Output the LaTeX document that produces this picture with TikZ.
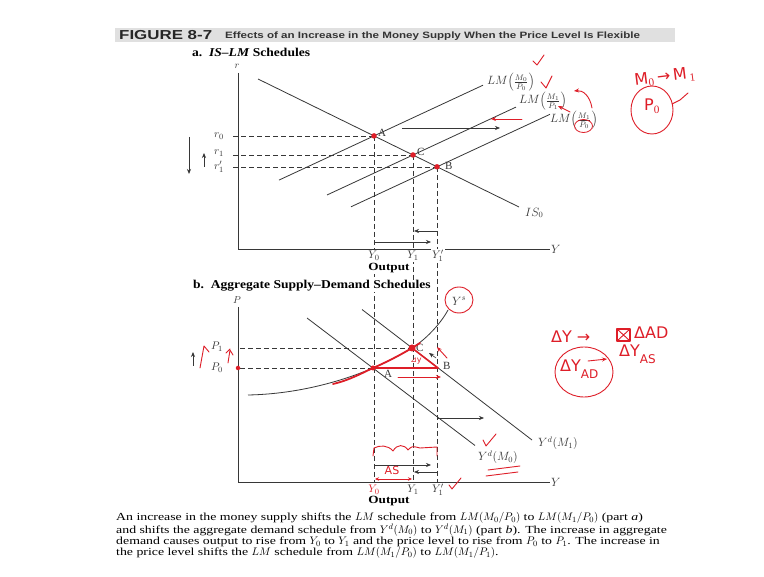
\documentclass[tikz,border=0pt]{standalone}
\usepackage{fontspec}
\setmainfont{Liberation Serif}
\newfontfamily\titlefont[FakeStretch=1.3]{Liberation Sans}
\newfontfamily\subtitlefont[FakeStretch=1.26]{Liberation Sans}
\newfontfamily\headfont[FakeStretch=1.13]{Liberation Serif}
\newfontfamily\outfont[FakeStretch=1.2]{Liberation Serif}
\newfontfamily\capfont[FakeStretch=1.28]{Liberation Serif}
\newfontfamily\handfont{DejaVu Sans}
\newcommand\tightlines{\setlength{\lineskiplimit}{0pt}\setlength{\lineskip}{0.5pt}}
\usetikzlibrary{arrows.meta}
\definecolor{pen}{RGB}{222,30,40}
\definecolor{ink}{RGB}{55,55,55}
\begin{document}
\begin{tikzpicture}[x=1pt,y=-1pt,
  axis/.style={line width=0.8pt, ink},
  curve/.style={line width=0.8pt, ink},
  guide/.style={dash pattern=on 5pt off 3pt, line width=0.55pt, ink},
  shiftarrow/.style={line width=0.6pt, ink, -{Stealth[length=5pt,width=4pt]}},
  dot/.style={circle, fill=pen, inner sep=0pt, minimum size=5.5pt},
  lbl/.style={font=\fontsize{11.5}{12}\selectfont, inner sep=1pt, text=ink},
  ptlbl/.style={font=\fontsize{11}{12}\selectfont, inner sep=1pt, text=ink},
  heading/.style={font=\headfont\bfseries\fontsize{12}{13}\selectfont, anchor=west, inner sep=0pt},
  outlbl/.style={font=\outfont\bfseries\fontsize{11}{12}\selectfont, inner sep=1pt},
  redmark/.style={pen, line width=0.9pt, line cap=round, line join=round},
  redarrow/.style={redmark, -{Stealth[length=5pt,width=4pt]}},
  handtext/.style={text=pen, inner sep=0pt, font=\handfont\fontsize{16}{16}\selectfont}
]
\useasboundingbox (0,0) rectangle (764,577);
\fill[white] (0,0) rectangle (764,577);

% ---------- title bar ----------
\fill[black!12] (115,28) rectangle (675,42);
\node[anchor=west, inner sep=0pt, font=\titlefont\bfseries\fontsize{13}{13}\selectfont, text=black!85] (fignum) at (119,35.5) {FIGURE 8-7};
\node[anchor=west, inner sep=0pt, font=\subtitlefont\bfseries\fontsize{9.2}{10}\selectfont, text=black!80] (figtitle) at (225,35.8) {Effects of an Increase in the Money Supply When the Price Level Is Flexible};

% ---------- panel a ----------
\node[heading] (heada) at (192,52) {a.\ \ \textit{IS–LM} Schedules};

\coordinate (A) at (374,135.9);
\coordinate (C) at (413,155.0);
\coordinate (B) at (437,166.8);

\draw[axis] (238,73) -- (238,249) -- (550,249);
\node[lbl, font=\fontsize{10}{10}\selectfont] (rax) at (237,66) {$r$};
\node[lbl, anchor=west] (yax) at (550,249) {$Y$};

\draw[curve] (258,79) -- (519,207);
\draw[curve] (279,180.1) -- (483,85.2);
\draw[curve] (327,195) -- (516,107.1);
\draw[curve] (351,206.8) -- (550,114.3);

\node[lbl, anchor=west] (islbl) at (524,213) {$IS_0$};
\node[lbl, anchor=west] (lm00) at (486,82) {$LM\Bigl(\frac{M_0}{P_0}\Bigr)$};
\node[lbl, anchor=west] (lm11) at (518,101) {$LM\Bigl(\frac{M_1}{P_1}\Bigr)$};
\node[lbl, anchor=west] (lm10) at (549,120) {$LM\Bigl(\frac{M_1}{P_0}\Bigr)$};

\node[ptlbl] (r0) at (219,135.9) {$r_0$};
\node[ptlbl] (r1) at (219,153) {$r_1$};
\node[ptlbl] (r1p) at (219,167) {$r_1'$};
\draw[guide] (233,135.9) -- (A);
\draw[guide] (233,155) -- (C);
\draw[guide] (233,166.8) -- (B);

% vertical guides spanning both panels
\draw[guide] (A) -- (374,482);
\draw[guide] (C) -- (413,482);
\draw[guide] (B) -- (437,482);

\node[dot] (dA) at (A) {};
\node[dot] (dC) at (C) {};
\node[dot] (dB) at (B) {};
\node[ptlbl, anchor=west] (la) at (377,133) {A};
\node[ptlbl, anchor=west] (lc) at (416,152) {C};
\node[ptlbl, anchor=west] (lb) at (444,166) {B};

\coordinate (sa1) at (402,128); \coordinate (sa2) at (500,128);
\draw[shiftarrow] (sa1) -- (sa2);
\coordinate (ya1) at (374,242); \coordinate (ya2) at (431,242);
\draw[shiftarrow] (ya1) -- (ya2);
\coordinate (yb1) at (437,231); \coordinate (yb2) at (414,231);
\draw[shiftarrow] (yb1) -- (yb2);
\coordinate (dn1) at (189,137); \coordinate (dn2) at (189,174);
\draw[shiftarrow, line width=0.8pt] (dn1) -- (dn2);
\coordinate (up1) at (204,167); \coordinate (up2) at (204,153);
\draw[shiftarrow, line width=0.7pt] (up1) -- (up2);

\node[ptlbl, fill=white, inner sep=1pt] (Y0a) at (374,256) {$Y_0$};
\node[ptlbl, fill=white, inner sep=1pt] (Y1a) at (413,256) {$Y_1$};
\node[ptlbl, fill=white, inner sep=1pt] (Y1pa) at (438,256) {$Y_1'$};
\node[outlbl, fill=white] (outa) at (389,268) {Output};

% ---------- panel b ----------
\node[heading, fill=white, inner sep=1pt] (headb) at (192,286) {b.\ \ Aggregate Supply–Demand Schedules};

\coordinate (A2) at (373,368);
\coordinate (C2) at (412,348);
\coordinate (B2) at (438,368);

\draw[axis] (238,307) -- (238,482) -- (550,482);
\node[lbl, font=\fontsize{10}{10}\selectfont] (pax) at (237,300) {$P$};
\node[lbl, anchor=west] (yaxb) at (550,482) {$Y$};

\node[ptlbl] (P1) at (217,347) {$P_1$};
\node[ptlbl] (P0) at (217,368) {$P_0$};
\draw[guide] (240,348) -- (C2);
\draw[guide] (240,368) -- (B2);

% demand schedules
\draw[curve] (307,318) -- (475,445.5);
\draw[curve] (362,309.5) -- (532,440);
\node[lbl] (yd0) at (498,457) {$Y^d(M_0)$};
\node[lbl] (yd1) at (558,443) {$Y^d(M_1)$};

% supply curve
\draw[curve] (248,395) .. controls (300,394) and (345,380) .. (A2)
  .. controls (386,362.4) and (400,355.2) .. (C2)
  .. controls (424,340.8) and (440,325) .. (448,310);
\node[lbl] (ys) at (459,301) {$Y^s$};

\node[ptlbl, anchor=west] (la2) at (383,374) {A};
\node[ptlbl, anchor=west] (lc2) at (415,348) {C};
\node[ptlbl, anchor=west] (lb2) at (442,366) {B};

\coordinate (bc1) at (436,358); \coordinate (bc2) at (429,353);
\draw[shiftarrow] (bc1) -- (bc2);
\coordinate (pb1) at (437,418); \coordinate (pb2) at (484,418);
\draw[shiftarrow] (pb1) -- (pb2);
\coordinate (yc1) at (374,465); \coordinate (yc2) at (431,465);
\draw[shiftarrow] (yc1) -- (yc2);
\coordinate (yd1a) at (437,472); \coordinate (yd2a) at (414,472);
\draw[shiftarrow] (yd1a) -- (yd2a);
\coordinate (pu1) at (193,366); \coordinate (pu2) at (193,352);
\draw[shiftarrow, line width=0.8pt] (pu1) -- (pu2);

\node[ptlbl, fill=white, inner sep=1pt, text=pen] (Y0b) at (374,490) {$Y_0$};
\node[ptlbl, fill=white, inner sep=1pt] (Y1b) at (413,490) {$Y_1$};
\node[ptlbl, fill=white, inner sep=1pt] (Y1pb) at (438,490) {$Y_1'$};
\node[outlbl] (outb) at (389,501) {Output};

% ---------- caption ----------
\node[anchor=north west, align=left, inner sep=0pt, font={\capfont\fontsize{10.8}{11.4}\selectfont\tightlines}] (cap) at (116,512) {%
An increase in the money supply shifts the $LM$ schedule from $LM(M_0/P_0)$ to $LM(M_1/P_0)$ (part \textit{a})\\
and shifts the aggregate demand schedule from $Y^d(M_0)$ to $Y^d(M_1)$ (part \textit{b}). The increase in aggregate\\
demand causes output to rise from $Y_0$ to $Y_1$ and the price level to rise from $P_0$ to $P_1$. The increase in\\
the price level shifts the $LM$ schedule from $LM(M_1/P_0)$ to $LM(M_1/P_1)$.};

% ---------- red handwritten annotations ----------
% panel a
\draw[redmark] (533,61) -- (537,65) -- (544,55);
\draw[redmark] (541,82) -- (546,88) -- (552,76);
\coordinate (ra1) at (522,119); \coordinate (ra2) at (491,119);
\draw[redarrow] (ra1) -- (ra2);
\draw[redarrow] (592,108) .. controls (590,96) and (583,90) .. (574,91);
\draw[redarrow] (570,112) -- (558,106);
\draw[redmark, line width=0.8pt] (583.5,126) ellipse [x radius=9, y radius=6.5];
\node[handtext, rotate=7] (mm) at (665,77) {M$_{\mathrm{0}}$\,→\,M\,$_{\mathrm{1}}$};
\node[handtext] (p0c) at (652,106) {P$_{\mathrm{0}}$};
\draw[redmark] (652,110) ellipse [x radius=21, y radius=24];
\draw[redmark] (672,104) -- (680,100) -- (688,93);

% panel b
\draw[redmark] (459,300) ellipse [x radius=14, y radius=13];
\draw[redmark, line width=1.8pt] (333,384) .. controls (350,380) and (362,373) .. (A2)
  .. controls (386,362.4) and (400,355.2) .. (C2) .. controls (416,345.7) .. (420,343);
\draw[redmark, line width=1.6pt] (A2) -- (B2) -- (C2);
\node[circle, fill=pen, inner sep=0pt, minimum size=7pt] (dC2) at (C2) {};
\node[circle, fill=pen, inner sep=0pt, minimum size=5pt] (dA2) at (A2) {};
\node[text=pen, inner sep=0pt, font=\handfont\fontsize{8}{8}\selectfont] (dy) at (416,361) {⊿y};
\coordinate (rb1) at (398,377); \coordinate (rb2) at (441,377);
\draw[redarrow] (rb1) -- (rb2);
\coordinate (rc1) at (447,358); \coordinate (rc2) at (437,347);
\draw[redarrow] (rc1) -- (rc2);
\draw[redmark] (200,368) -- (204,346) -- (209,352);
\draw[redmark] (228,363) -- (230,350) -- (233,355);
\draw[redmark] (226,353) -- (230,349);
\node[circle, fill=pen, inner sep=0pt, minimum size=4.5pt] (pdot) at (238,368) {};

\node[handtext, anchor=west] (dyad) at (551,337) {ΔY →};
\draw[redmark, line width=1.2pt] (617,329) rectangle (630,341);
\draw[redmark] (617,329) -- (630,341) (617,341) -- (630,329);
\node[handtext, anchor=west] (dad) at (634,333) {ΔAD};
\node[handtext, anchor=west] (dyas) at (619,354) {ΔY\raisebox{-7pt}{\fontsize{12}{12}\selectfont AS}};
\node[handtext, anchor=west] (dyadc) at (560,369) {ΔY\raisebox{-7pt}{\fontsize{12}{12}\selectfont AD}};
\draw[redarrow] (588,361) -- (607,359);
\draw[redmark] (584,372) ellipse [x radius=29, y radius=25];

\draw[redmark] (483,440) -- (486,446) -- (496,434);
\draw[redmark] (488,470) -- (520,466);
\draw[redmark] (486,476) -- (518,472);

\draw[redmark] (373,456) -- (374,448) .. controls (380,445) and (388,445) .. (393,451)
  .. controls (397,444) and (404,444) .. (408,450) .. controls (412,446) .. (420,448) -- (437,447) -- (437,456);
\node[text=pen, inner sep=0pt, font=\handfont\fontsize{11}{11}\selectfont] (as) at (392,470) {AS};
\coordinate (as1) at (375,479); \coordinate (as2) at (412,479);
\draw[redmark, {Stealth[length=4pt,width=3.5pt]}-{Stealth[length=4pt,width=3.5pt]}] (as1) -- (as2);
\draw[redmark] (449,485) -- (452,489) -- (461,478);
\end{tikzpicture}
\end{document}
